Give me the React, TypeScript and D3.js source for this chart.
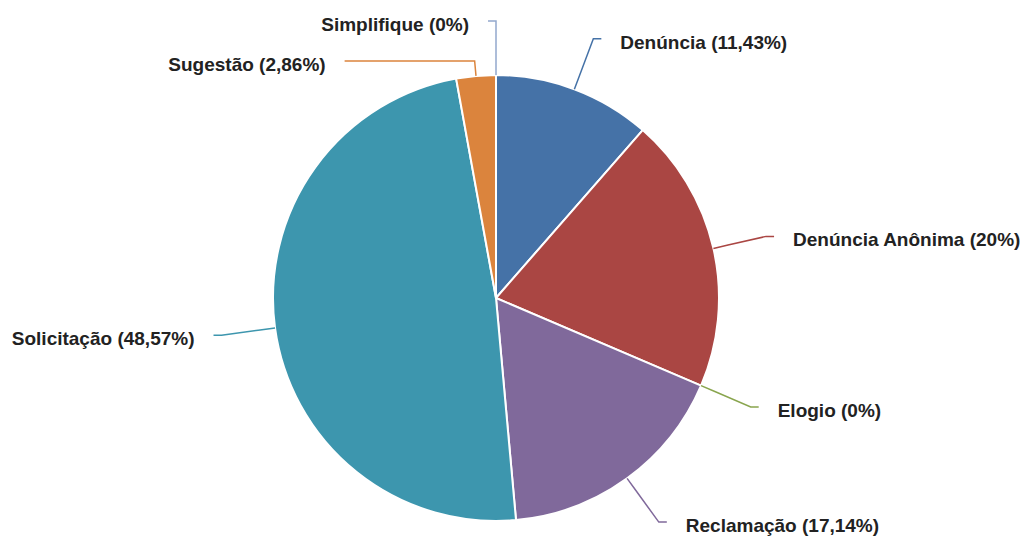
import React from "react";
import * as d3 from "d3";

const categories = ["Denúncia", "Denúncia Anônima", "Elogio", "Reclamação", "Solicitação", "Sugestão", "Simplifique"];
const values = [11.43, 20, 0, 17.14, 48.57, 2.86, 0];
const valueLabels = ["11,43%", "20%", "0%", "17,14%", "48,57%", "2,86%", "0%"];
const colors = ["#4572A7", "#AA4643", "#89A54E", "#80699B", "#3D96AE", "#DB843D", "#92A8CD"];

const W = 1026, H = 536;
const cx = 496, cy = 298, r = 223;
const labelR = r + 54;
const bendR = r + 15;
const minGap = 40;

export default function App() {
  const pie = d3.pie<number>().sort(null).value((d) => d)(values);
  const arc = d3.arc<d3.PieArcDatum<number>>().innerRadius(0).outerRadius(r);

  type L = { i: number; a: number; left: boolean; y: number };
  const labels: L[] = pie.map((p, i) => {
    const a = (p.startAngle + p.endAngle) / 2;
    return { i, a, left: a > Math.PI, y: cy - labelR * Math.cos(a) };
  });
  for (const side of [true, false]) {
    const group = labels.filter((l) => l.left === side).sort((p, q) => p.y - q.y);
    for (let k = 1; k < group.length; k++) {
      if (group[k].y < group[k - 1].y + minGap) group[k].y = group[k - 1].y + minGap;
    }
  }

  return (
    <svg width={W} height={H} style={{ position: "fixed", left: 0, top: 0, background: "#fff" }}>
      <g transform={`translate(${cx},${cy})`}>
        {pie.map((p, i) =>
          p.value > 0 ? (
            <path key={i} d={arc(p) || ""} fill={colors[i]} stroke="#fff" strokeWidth={2} strokeLinejoin="round" />
          ) : null
        )}
      </g>
      {labels.map((l) => {
        const dy = l.y - cy;
        const dx = Math.sqrt(Math.max(0, labelR * labelR - dy * dy));
        const lx = l.left ? cx - dx : cx + dx;
        const sgn = l.left ? -1 : 1;
        const ex = cx + r * Math.sin(l.a), ey = cy - r * Math.cos(l.a);
        const bx = cx + bendR * Math.sin(l.a), by = cy - bendR * Math.cos(l.a);
        const d = `M${lx + sgn * 8},${l.y}L${lx},${l.y}L${bx},${by}L${ex},${ey}`;
        return (
          <g key={l.i}>
            <path d={d} fill="none" stroke={colors[l.i]} strokeWidth={1.5} />
            <text
              x={lx + sgn * 27}
              y={l.y + 10}
              textAnchor={l.left ? "end" : "start"}
              fontFamily="'Liberation Sans', Arial, sans-serif"
              fontWeight="bold"
              fontSize={19}
              fill="#222"
            >
              {`${categories[l.i]} (${valueLabels[l.i]})`}
            </text>
          </g>
        );
      })}
    </svg>
  );
}
